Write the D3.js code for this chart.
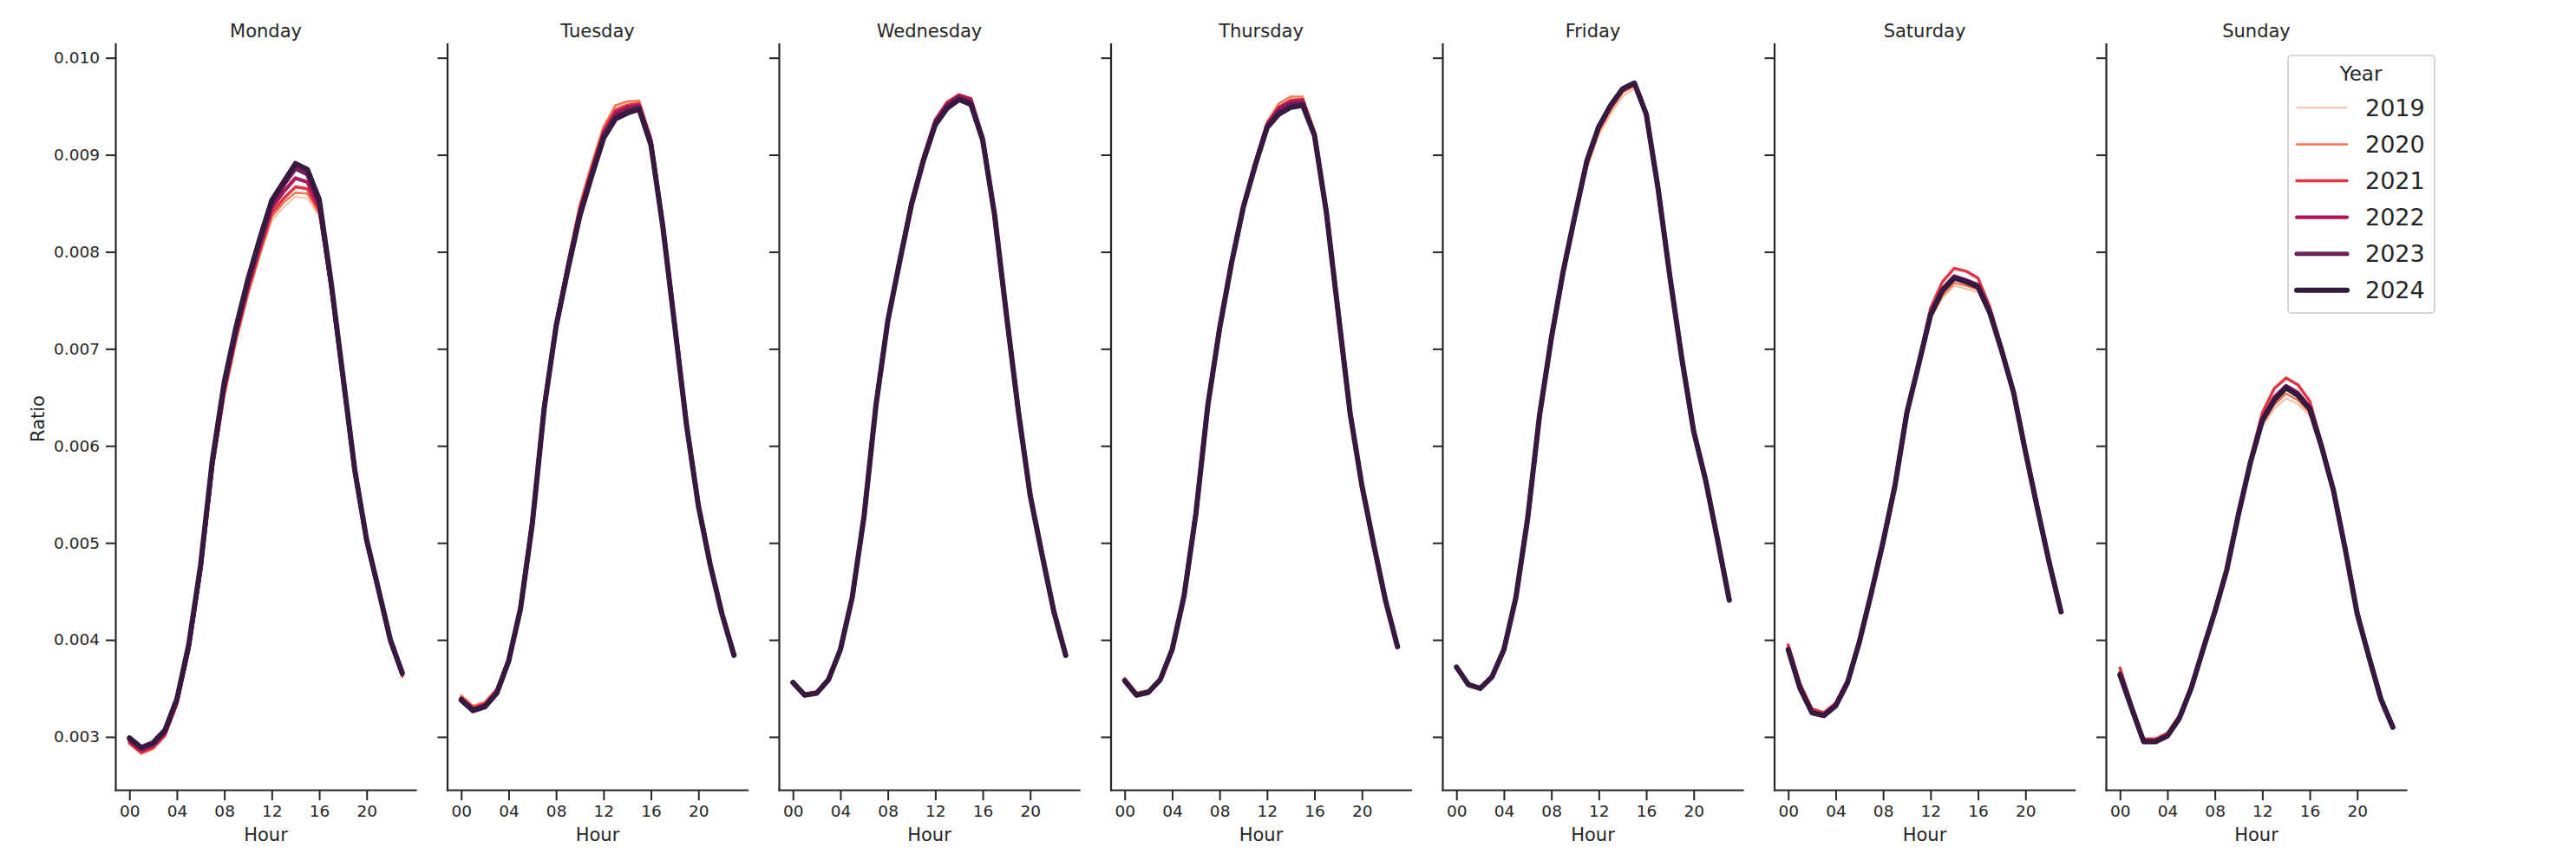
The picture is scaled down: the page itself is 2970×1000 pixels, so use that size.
<!DOCTYPE html>
<html>
<head>
<meta charset="utf-8">
<script src="https://cdn.jsdelivr.net/npm/d3@7"></script>
<style>
  body { margin: 0; background: #fff; }
  svg text { font-family: "DejaVu Sans", sans-serif; fill: #262626; }
</style>
</head>
<body>
<div id="chart"></div>
<script>
const dayNames = ["Monday", "Tuesday", "Wednesday", "Thursday", "Friday", "Saturday", "Sunday"];
const years = [2019, 2020, 2021, 2022, 2023, 2024];
const hours = d3.range(24);
const xTicks = [0, 4, 8, 12, 16, 20];
const yTicks = [0.003, 0.004, 0.005, 0.006, 0.007, 0.008, 0.009, 0.010];

// one row per year (2019 .. 2024), 24 hourly ratios each
const monday = [
  [0.00292,0.00282,0.00287,0.00300,0.00332,0.00386,0.00466,0.00572,0.00649,0.00706,0.00754,0.00795,0.00832,0.00846,0.00857,0.00855,0.00837,0.00760,0.00666,0.00570,0.00498,0.00447,0.00395,0.00361],
  [0.00293,0.00283,0.00288,0.00301,0.00333,0.00388,0.00468,0.00575,0.00652,0.00709,0.00757,0.00798,0.00836,0.00851,0.00861,0.00860,0.00840,0.00761,0.00667,0.00571,0.00499,0.00448,0.00396,0.00362],
  [0.00294,0.00284,0.00289,0.00302,0.00334,0.00389,0.00470,0.00577,0.00655,0.00712,0.00760,0.00801,0.00840,0.00855,0.00867,0.00865,0.00842,0.00762,0.00668,0.00572,0.00500,0.00449,0.00397,0.00363],
  [0.00296,0.00286,0.00291,0.00304,0.00336,0.00391,0.00472,0.00580,0.00659,0.00716,0.00765,0.00806,0.00845,0.00862,0.00876,0.00872,0.00846,0.00764,0.00669,0.00573,0.00501,0.00450,0.00398,0.00364],
  [0.00298,0.00288,0.00293,0.00306,0.00338,0.00393,0.00475,0.00583,0.00663,0.00720,0.00769,0.00811,0.00850,0.00869,0.00886,0.00880,0.00851,0.00767,0.00671,0.00574,0.00502,0.00451,0.00399,0.00365],
  [0.00299,0.00289,0.00294,0.00307,0.00339,0.00395,0.00477,0.00586,0.00666,0.00723,0.00772,0.00814,0.00853,0.00872,0.00891,0.00885,0.00854,0.00769,0.00672,0.00575,0.00503,0.00452,0.00400,0.00366]
];
const tuesday = [
  [0.00341,0.00331,0.00335,0.00349,0.00381,0.00434,0.00522,0.00641,0.00727,0.00789,0.00846,0.00888,0.00927,0.00948,0.00953,0.00954,0.00917,0.00830,0.00726,0.00623,0.00540,0.00479,0.00428,0.00386],
  [0.00343,0.00332,0.00336,0.00350,0.00382,0.00435,0.00523,0.00642,0.00728,0.00791,0.00849,0.00891,0.00929,0.00951,0.00955,0.00956,0.00918,0.00831,0.00727,0.00624,0.00541,0.00480,0.00429,0.00387],
  [0.00340,0.00330,0.00334,0.00348,0.00380,0.00434,0.00522,0.00641,0.00726,0.00788,0.00845,0.00886,0.00925,0.00946,0.00951,0.00953,0.00916,0.00829,0.00726,0.00623,0.00540,0.00479,0.00428,0.00386],
  [0.00340,0.00329,0.00333,0.00347,0.00379,0.00433,0.00521,0.00640,0.00725,0.00786,0.00842,0.00883,0.00922,0.00943,0.00949,0.00951,0.00914,0.00828,0.00725,0.00622,0.00539,0.00478,0.00427,0.00385],
  [0.00339,0.00328,0.00332,0.00346,0.00379,0.00433,0.00521,0.00640,0.00724,0.00784,0.00839,0.00880,0.00919,0.00940,0.00946,0.00949,0.00912,0.00827,0.00725,0.00622,0.00539,0.00478,0.00427,0.00385],
  [0.00338,0.00327,0.00331,0.00345,0.00378,0.00432,0.00520,0.00639,0.00723,0.00782,0.00837,0.00878,0.00917,0.00937,0.00943,0.00947,0.00910,0.00826,0.00724,0.00621,0.00538,0.00477,0.00426,0.00384]
];
const wednesday = [
  [0.00357,0.00344,0.00346,0.00360,0.00391,0.00445,0.00529,0.00643,0.00730,0.00792,0.00852,0.00898,0.00936,0.00954,0.00961,0.00957,0.00918,0.00840,0.00736,0.00637,0.00550,0.00489,0.00430,0.00385],
  [0.00358,0.00345,0.00347,0.00361,0.00392,0.00446,0.00530,0.00644,0.00731,0.00793,0.00853,0.00899,0.00937,0.00955,0.00962,0.00958,0.00919,0.00840,0.00736,0.00637,0.00550,0.00489,0.00430,0.00385],
  [0.00357,0.00344,0.00346,0.00360,0.00391,0.00445,0.00529,0.00643,0.00730,0.00792,0.00852,0.00898,0.00936,0.00954,0.00962,0.00958,0.00918,0.00840,0.00736,0.00637,0.00550,0.00489,0.00430,0.00385],
  [0.00357,0.00344,0.00346,0.00360,0.00391,0.00445,0.00529,0.00643,0.00730,0.00792,0.00852,0.00897,0.00935,0.00953,0.00961,0.00957,0.00918,0.00839,0.00736,0.00637,0.00550,0.00489,0.00430,0.00385],
  [0.00356,0.00343,0.00345,0.00359,0.00390,0.00444,0.00528,0.00642,0.00729,0.00791,0.00850,0.00895,0.00933,0.00950,0.00959,0.00954,0.00916,0.00838,0.00735,0.00636,0.00549,0.00488,0.00429,0.00384],
  [0.00356,0.00343,0.00345,0.00359,0.00390,0.00444,0.00528,0.00642,0.00729,0.00790,0.00849,0.00894,0.00931,0.00948,0.00957,0.00952,0.00915,0.00838,0.00735,0.00636,0.00549,0.00488,0.00429,0.00384]
];
const thursday = [
  [0.00360,0.00345,0.00348,0.00361,0.00391,0.00446,0.00531,0.00642,0.00723,0.00790,0.00849,0.00893,0.00933,0.00951,0.00958,0.00958,0.00924,0.00843,0.00738,0.00635,0.00560,0.00499,0.00441,0.00394],
  [0.00361,0.00346,0.00348,0.00361,0.00392,0.00446,0.00531,0.00643,0.00724,0.00791,0.00850,0.00894,0.00934,0.00953,0.00960,0.00960,0.00925,0.00843,0.00738,0.00635,0.00560,0.00499,0.00441,0.00394],
  [0.00359,0.00344,0.00347,0.00360,0.00391,0.00446,0.00531,0.00642,0.00722,0.00789,0.00848,0.00892,0.00932,0.00949,0.00956,0.00957,0.00923,0.00842,0.00738,0.00635,0.00560,0.00499,0.00441,0.00394],
  [0.00359,0.00344,0.00347,0.00360,0.00391,0.00445,0.00530,0.00641,0.00722,0.00789,0.00847,0.00891,0.00931,0.00948,0.00955,0.00956,0.00922,0.00842,0.00737,0.00634,0.00559,0.00498,0.00440,0.00393],
  [0.00358,0.00343,0.00346,0.00359,0.00390,0.00445,0.00530,0.00641,0.00721,0.00788,0.00846,0.00890,0.00929,0.00945,0.00952,0.00953,0.00921,0.00841,0.00737,0.00634,0.00559,0.00498,0.00440,0.00393],
  [0.00358,0.00343,0.00346,0.00359,0.00390,0.00445,0.00530,0.00641,0.00721,0.00788,0.00846,0.00889,0.00928,0.00942,0.00949,0.00951,0.00920,0.00841,0.00737,0.00634,0.00559,0.00498,0.00440,0.00393]
];
const friday = [
  [0.00371,0.00353,0.00349,0.00361,0.00389,0.00441,0.00522,0.00627,0.00706,0.00774,0.00831,0.00885,0.00920,0.00942,0.00960,0.00968,0.00939,0.00863,0.00773,0.00689,0.00614,0.00564,0.00503,0.00440],
  [0.00371,0.00353,0.00349,0.00361,0.00389,0.00442,0.00523,0.00628,0.00708,0.00776,0.00834,0.00889,0.00924,0.00946,0.00964,0.00971,0.00940,0.00864,0.00773,0.00689,0.00614,0.00564,0.00503,0.00440],
  [0.00372,0.00354,0.00350,0.00362,0.00390,0.00442,0.00524,0.00629,0.00709,0.00777,0.00836,0.00891,0.00926,0.00948,0.00966,0.00972,0.00941,0.00864,0.00774,0.00690,0.00615,0.00565,0.00504,0.00441],
  [0.00372,0.00354,0.00350,0.00362,0.00390,0.00443,0.00525,0.00630,0.00710,0.00779,0.00837,0.00893,0.00928,0.00950,0.00967,0.00974,0.00942,0.00865,0.00774,0.00690,0.00615,0.00565,0.00504,0.00441],
  [0.00372,0.00354,0.00350,0.00362,0.00390,0.00443,0.00525,0.00631,0.00711,0.00780,0.00838,0.00894,0.00929,0.00951,0.00968,0.00974,0.00942,0.00865,0.00774,0.00690,0.00615,0.00565,0.00504,0.00441],
  [0.00372,0.00354,0.00350,0.00362,0.00390,0.00443,0.00525,0.00631,0.00711,0.00780,0.00838,0.00894,0.00929,0.00951,0.00968,0.00974,0.00942,0.00865,0.00774,0.00690,0.00615,0.00565,0.00504,0.00441]
];
const saturday = [
  [0.00392,0.00352,0.00327,0.00324,0.00333,0.00357,0.00398,0.00447,0.00500,0.00557,0.00631,0.00680,0.00730,0.00752,0.00765,0.00762,0.00758,0.00734,0.00697,0.00655,0.00595,0.00537,0.00481,0.00430],
  [0.00393,0.00353,0.00328,0.00324,0.00334,0.00358,0.00399,0.00448,0.00501,0.00558,0.00632,0.00682,0.00733,0.00755,0.00768,0.00765,0.00761,0.00736,0.00698,0.00656,0.00596,0.00538,0.00482,0.00431],
  [0.00395,0.00355,0.00329,0.00325,0.00335,0.00359,0.00400,0.00450,0.00503,0.00561,0.00636,0.00687,0.00742,0.00769,0.00783,0.00780,0.00773,0.00743,0.00702,0.00658,0.00597,0.00539,0.00482,0.00430],
  [0.00391,0.00351,0.00326,0.00323,0.00333,0.00357,0.00399,0.00449,0.00502,0.00560,0.00635,0.00685,0.00737,0.00762,0.00775,0.00771,0.00766,0.00739,0.00699,0.00656,0.00595,0.00537,0.00481,0.00430],
  [0.00390,0.00350,0.00325,0.00322,0.00332,0.00356,0.00398,0.00448,0.00501,0.00559,0.00634,0.00684,0.00736,0.00761,0.00774,0.00770,0.00765,0.00738,0.00698,0.00655,0.00594,0.00536,0.00480,0.00429],
  [0.00390,0.00350,0.00325,0.00322,0.00332,0.00356,0.00398,0.00448,0.00501,0.00559,0.00634,0.00684,0.00735,0.00760,0.00773,0.00769,0.00764,0.00737,0.00698,0.00655,0.00594,0.00536,0.00480,0.00429]
];
const sunday = [
  [0.00366,0.00330,0.00296,0.00296,0.00302,0.00320,0.00351,0.00390,0.00428,0.00470,0.00527,0.00579,0.00620,0.00638,0.00649,0.00643,0.00631,0.00595,0.00552,0.00493,0.00428,0.00383,0.00340,0.00311],
  [0.00367,0.00331,0.00297,0.00297,0.00303,0.00321,0.00352,0.00391,0.00429,0.00471,0.00529,0.00581,0.00623,0.00642,0.00654,0.00647,0.00634,0.00597,0.00553,0.00494,0.00428,0.00383,0.00340,0.00311],
  [0.00371,0.00333,0.00298,0.00298,0.00304,0.00322,0.00353,0.00392,0.00431,0.00474,0.00533,0.00587,0.00634,0.00659,0.00670,0.00663,0.00646,0.00603,0.00556,0.00495,0.00429,0.00384,0.00341,0.00312],
  [0.00366,0.00330,0.00296,0.00296,0.00302,0.00320,0.00351,0.00391,0.00430,0.00473,0.00531,0.00584,0.00628,0.00650,0.00662,0.00655,0.00640,0.00600,0.00554,0.00494,0.00428,0.00383,0.00340,0.00311],
  [0.00364,0.00329,0.00295,0.00295,0.00301,0.00319,0.00350,0.00390,0.00429,0.00472,0.00530,0.00583,0.00627,0.00648,0.00661,0.00653,0.00639,0.00599,0.00554,0.00493,0.00427,0.00382,0.00339,0.00310],
  [0.00364,0.00329,0.00295,0.00295,0.00301,0.00319,0.00350,0.00390,0.00429,0.00472,0.00530,0.00583,0.00626,0.00647,0.00660,0.00652,0.00638,0.00599,0.00554,0.00493,0.00427,0.00382,0.00339,0.00310]
];
const dayData = [monday, tuesday, wednesday, thursday, friday, saturday, sunday];

const colors = ["#f6b48f", "#f37651", "#e13342", "#ad1759", "#701f57", "#35193e"];
const widths = [1.6, 2.5, 3.4, 4.2, 5.1, 6.0];

const W = 2970, H = 1000;
const left0 = 133.5, step = 382.5, panelW = 346;
const plotTop = 51, plotBottom = 911.5;
const ink = "#262626";

const svg = d3.select("#chart").append("svg")
  .attr("width", W).attr("height", H);

const x = d3.scaleLinear().domain([-1.15, 24.15]).range([0, panelW]);
const y = d3.scaleLinear().domain([0.00245, 0.01014]).range([plotBottom, plotTop]);

const line = d3.line()
  .x((d, i) => x(hours[i]))
  .y(d => y(d));

dayNames.forEach((name, di) => {
  const g = svg.append("g").attr("transform", "translate(" + (left0 + di * step) + ",0)");

  // y axis
  const ya = g.append("g")
    .call(d3.axisLeft(y).tickValues(yTicks).tickFormat(d3.format(".3f")).tickSize(11.5).tickPadding(7));
  ya.select(".domain").remove();
  ya.selectAll(".tick line").attr("stroke", ink).attr("stroke-width", 2);
  ya.selectAll(".tick text").attr("font-size", 18.5).attr("fill", ink)
    .style("visibility", di === 0 ? "visible" : "hidden");

  // x axis
  const xa = g.append("g").attr("transform", "translate(0," + plotBottom + ")")
    .call(d3.axisBottom(x).tickValues(xTicks).tickFormat(d3.format("02d")).tickSize(11.5).tickPadding(6));
  xa.select(".domain").remove();
  xa.selectAll(".tick line").attr("stroke", ink).attr("stroke-width", 2);
  xa.selectAll(".tick text").attr("font-size", 18.5).attr("fill", ink);

  // spines
  g.append("line").attr("x1", 0).attr("x2", 0).attr("y1", plotTop).attr("y2", plotBottom)
    .attr("stroke", ink).attr("stroke-width", 2.2).attr("stroke-linecap", "square");
  g.append("line").attr("x1", 0).attr("x2", panelW).attr("y1", plotBottom).attr("y2", plotBottom)
    .attr("stroke", ink).attr("stroke-width", 2.2).attr("stroke-linecap", "square");

  // one line per year, 2024 drawn last
  g.selectAll("path.year")
    .data(dayData[di])
    .enter()
    .append("path")
    .attr("class", "year")
    .attr("d", line)
    .attr("fill", "none")
    .attr("stroke", (d, i) => colors[i])
    .attr("stroke-width", (d, i) => widths[i])
    .attr("stroke-linejoin", "round")
    .attr("stroke-linecap", "round");

  g.append("text").attr("x", panelW / 2).attr("y", 43)
    .attr("text-anchor", "middle").attr("font-size", 21).text(name);
  g.append("text").attr("x", panelW / 2).attr("y", 970)
    .attr("text-anchor", "middle").attr("font-size", 21).text("Hour");
});

svg.append("text")
  .attr("transform", "translate(51,483) rotate(-90)")
  .attr("text-anchor", "middle").attr("font-size", 21).text("Ratio");

// legend
const lg = svg.append("g").attr("transform", "translate(2638,64)");
lg.append("rect").attr("x", 0).attr("y", 0).attr("width", 169).attr("height", 297)
  .attr("rx", 4).attr("fill", "#fff").attr("stroke", "#d6d6d6").attr("stroke-width", 2);
lg.append("text").attr("x", 84).attr("y", 29).attr("text-anchor", "middle")
  .attr("font-size", 23).text("Year");
years.forEach((yr, i) => {
  const cy = 60.3 + i * 42.1;
  lg.append("line").attr("x1", 10).attr("x2", 68).attr("y1", cy).attr("y2", cy)
    .attr("stroke", colors[i]).attr("stroke-width", widths[i]).attr("stroke-linecap", "round");
  lg.append("text").attr("x", 89).attr("y", cy + 9.5).attr("font-size", 27).text(yr);
});
</script>
</body>
</html>
